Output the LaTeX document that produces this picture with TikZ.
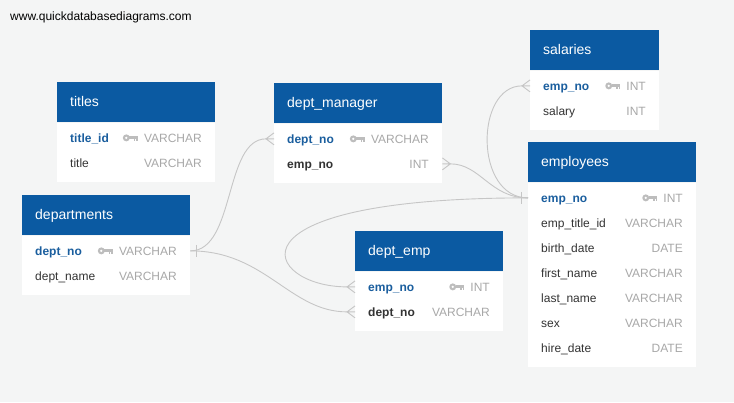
\documentclass[tikz,border=0pt]{standalone}
\usepackage{fontspec}
\setmainfont{Liberation Sans}
\definecolor{bg}{HTML}{F4F5F5}
\definecolor{hdrblue}{HTML}{0B5AA2}
\definecolor{pkblue}{HTML}{1A5E9E}
\definecolor{darktxt}{HTML}{333333}
\definecolor{typgray}{HTML}{A8A8A8}
\definecolor{keygray}{HTML}{BDBDBD}
\definecolor{conngray}{HTML}{C6C6C6}
\tikzset{
  hdr/.style={fill=hdrblue, draw=none, minimum height=40pt, inner sep=0pt},
  hdrtxt/.style={text=white, font=\fontsize{14}{16}\selectfont, inner sep=0pt},
  tbody/.style={fill=white, draw=none, inner sep=0pt},
  fldn/.style={text=darktxt, font=\fontsize{12}{14}\selectfont, inner sep=0pt},
  fldpk/.style={text=pkblue, font=\fontsize{12}{14}\selectfont\bfseries, inner sep=0pt},
  fldfk/.style={text=darktxt, font=\fontsize{12}{14}\selectfont\bfseries, inner sep=0pt},
  typ/.style={text=typgray, font=\fontsize{12}{14}\selectfont, inner sep=0pt},
  conn/.style={draw=conngray, line width=0.9pt},
}
% name, x, y, width, title, body height
\newcommand{\dbtable}[6]{%
  \node[hdr, minimum width=#4pt, anchor=north west] (#1) at (#2,#3) {};
  \node[hdrtxt, anchor=base west] (#1-title) at (#2+13,#3+24.5) {#5};
  \node[tbody, minimum width=#4pt, minimum height=#6pt, anchor=north west] (#1B) at (#1.south west) {};
}
% table, index, x, y, width, style, field, type
\newcommand{\frow}[8]{%
  \node[#6, anchor=base west] (#1-f#2) at (#3+13,#4+35+25*#2) {#7};
  \node[typ, anchor=base east] (#1-t#2) at (#3+#5-13,#4+35+25*#2) {#8};
}
\newcommand{\pkkey}[1]{%
  \begin{scope}[shift={(#1.west)}]
    \fill[keygray] (-17.5,0) circle (3.5);
    \fill[white] (-17.5,0) circle (1.3);
    \fill[keygray] (-14.5,-1.5) rectangle (-6,1.5);
    \fill[keygray] (-10,0) rectangle (-8.6,3.3);
    \fill[keygray] (-7.5,0) rectangle (-6,3.3);
  \end{scope}}
\newcommand{\crowleft}[1]{%
  \begin{scope}[shift={(#1)}]
    \draw[conn] (0,-6) -- (-8,0) -- (0,6) (-8,0) -- (0,0);
  \end{scope}}
\newcommand{\crowright}[1]{%
  \begin{scope}[shift={(#1)}]
    \draw[conn] (0,-6) -- (8,0) -- (0,6) (8,0) -- (0,0);
  \end{scope}}
\newcommand{\onetick}[2]{%
  \begin{scope}[shift={(#1)}]
    \draw[conn] (#2,-6) -- (#2,6);
  \end{scope}}
\begin{document}
\begin{tikzpicture}[x=1pt,y=-1pt]
\fill[bg] (0,0) rectangle (734,402);
\node[anchor=base west, font=\fontsize{12}{14}\selectfont, text=black, inner sep=0pt] (url) at (10,20) {www.quickdatabasediagrams.com};

% tables
\dbtable{ti}{57}{82}{158}{titles}{59}
\frow{ti}{1}{57}{82}{158}{fldpk}{title\_id}{VARCHAR}
\frow{ti}{2}{57}{82}{158}{fldn}{title}{VARCHAR}
\pkkey{ti-t1}

\dbtable{dp}{22}{195}{168}{departments}{59}
\frow{dp}{1}{22}{195}{168}{fldpk}{dept\_no}{VARCHAR}
\frow{dp}{2}{22}{195}{168}{fldn}{dept\_name}{VARCHAR}
\pkkey{dp-t1}

\dbtable{dm}{274}{83}{168}{dept\_manager}{59}
\frow{dm}{1}{274}{83}{168}{fldpk}{dept\_no}{VARCHAR}
\frow{dm}{2}{274}{83}{168}{fldfk}{emp\_no}{INT}
\pkkey{dm-t1}

\dbtable{de}{355}{231}{148}{dept\_emp}{59}
\frow{de}{1}{355}{231}{148}{fldpk}{emp\_no}{INT}
\frow{de}{2}{355}{231}{148}{fldfk}{dept\_no}{VARCHAR}
\pkkey{de-t1}

\dbtable{sa}{530}{30}{129}{salaries}{59}
\frow{sa}{1}{530}{30}{129}{fldpk}{emp\_no}{INT}
\frow{sa}{2}{530}{30}{129}{fldn}{salary}{INT}
\pkkey{sa-t1}

\dbtable{em}{528}{142}{168}{employees}{184}
\frow{em}{1}{528}{142}{168}{fldpk}{emp\_no}{INT}
\frow{em}{2}{528}{142}{168}{fldn}{emp\_title\_id}{VARCHAR}
\frow{em}{3}{528}{142}{168}{fldn}{birth\_date}{DATE}
\frow{em}{4}{528}{142}{168}{fldn}{first\_name}{VARCHAR}
\frow{em}{5}{528}{142}{168}{fldn}{last\_name}{VARCHAR}
\frow{em}{6}{528}{142}{168}{fldn}{sex}{VARCHAR}
\frow{em}{7}{528}{142}{168}{fldn}{hire\_date}{DATE}
\pkkey{em-t1}

% connector end points
\coordinate (dp-pk) at (dpB.east |- dp-t1.west);
\coordinate (em-pk) at (emB.west |- em-t1.west);
\coordinate (dm-dept) at (dmB.west |- dm-t1.west);
\coordinate (dm-emp) at (dmB.east |- dm-t2.west);
\coordinate (de-emp) at (deB.west |- de-t1.west);
\coordinate (de-dept) at (deB.west |- de-t2.west);
\coordinate (sa-emp) at (saB.west |- sa-t1.west);
\coordinate (dm-dept-a) at ([xshift=-8pt]dm-dept);
\coordinate (dm-emp-a) at ([xshift=8pt]dm-emp);
\coordinate (de-emp-a) at ([xshift=-8pt]de-emp);
\coordinate (de-dept-a) at ([xshift=-8pt]de-dept);
\coordinate (sa-emp-a) at ([xshift=-8pt]sa-emp);

% connectors
\draw[conn] (dp-pk) .. controls +(45,0) and +(-42,0) .. (dm-dept-a);
\draw[conn] (dp-pk) .. controls +(75,0) and +(-57,0) .. (de-dept-a);
\draw[conn] (em-pk) .. controls +(-38,0) and +(30,0) .. (dm-emp-a);
\draw[conn] (em-pk) .. controls +(-54,0) and +(-47,0) .. (sa-emp-a);
\draw[conn] (em-pk) .. controls +(-313,0) and +(-82,0) .. (de-emp-a);
\onetick{dp-pk}{6}
\onetick{em-pk}{-7}
\crowleft{dm-dept}
\crowright{dm-emp}
\crowleft{de-emp}
\crowleft{de-dept}
\crowleft{sa-emp}
\end{tikzpicture}
\end{document}
